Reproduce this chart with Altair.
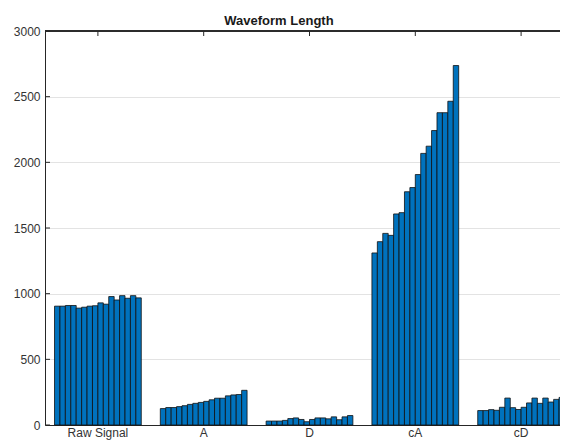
import altair as alt
import pandas as pd

groups = ["Raw Signal", "A", "D", "cA", "cD"]
raw_signal = [905, 905, 910, 910, 890, 897, 905, 908, 930, 920, 978, 952, 985, 965, 985, 968]
a_vals = [125, 133, 133, 140, 147, 157, 165, 172, 180, 192, 204, 204, 222, 229, 232, 264]
d_vals = [30, 30, 30, 35, 49, 54, 42, 25, 42, 54, 54, 47, 62, 40, 62, 72]
ca_vals = [1310, 1396, 1459, 1444, 1607, 1617, 1776, 1808, 1907, 2068, 2123, 2242, 2378, 2378, 2465, 2737]
cd_vals = [110, 110, 117, 112, 135, 205, 132, 118, 135, 168, 205, 165, 205, 175, 195, 210]
y_ticks = [0, 500, 1000, 1500, 2000, 2500, 3000]

series = [raw_signal, a_vals, d_vals, ca_vals, cd_vals]
rows = []
for g, vals in zip(groups, series):
    for j, v in enumerate(vals):
        rows.append({"group": g, "series": j, "value": v})
df = pd.DataFrame(rows)

# the axes box runs past the right edge of the picture, as in the reference
xscale = alt.Scale(domain=groups, paddingInner=0.18, paddingOuter=0.09, range=[0, 529])
dark = "#262626"

bars = alt.Chart(df).mark_bar(fill="#0072BD", stroke="#101010", strokeWidth=0.8, opacity=1).encode(
    x=alt.X("group:N", sort=groups, scale=xscale,
            axis=alt.Axis(title=None, labelAngle=0, ticks=False, labelFontSize=12,
                          labelPadding=2, labelColor="#333333", domainColor=dark, grid=False)),
    xOffset=alt.XOffset("series:O", scale=alt.Scale(paddingInner=0, paddingOuter=0)),
    y=alt.Y("value:Q", scale=alt.Scale(domain=[0, 3000], nice=False),
            axis=alt.Axis(title=None, values=y_ticks, format="d", ticks=False, labelFontSize=12,
                          labelPadding=5, labelColor="#333333", domainColor=dark,
                          grid=True, gridColor="#e3e3e3")),
)

ytick_df = pd.DataFrame({"value": y_ticks})
yticks = alt.Chart(ytick_df).mark_rule(color=dark, strokeWidth=1).encode(
    y=alt.Y("value:Q"), x=alt.value(0), x2=alt.value(5)
)

gdf = pd.DataFrame({"group": groups})
topticks = alt.Chart(gdf).mark_rule(color=dark, strokeWidth=1).encode(
    x=alt.X("group:N", sort=groups, scale=xscale, bandPosition=0.5),
    y=alt.value(0), y2=alt.value(5)
)

topline = alt.Chart(gdf).mark_rule(color=dark, strokeWidth=1).encode(
    x=alt.value(0), x2=alt.value(540), y=alt.value(0)
)

chart = alt.layer(bars, yticks, topticks, topline).properties(
    width=515, height=394,
    title=alt.TitleParams("Waveform Length", fontSize=13, fontWeight="bold", color="#1a1a1a",
                          anchor="start", dx=211, dy=8, offset=5),
    autosize=alt.AutoSizeParams(type="none"),
    padding={"left": 37, "top": 23, "right": 0, "bottom": 15},
).configure(font="Liberation Sans").configure_view(stroke=None)

chart.save("out.html", embed_options={"renderer": "svg", "actions": False})
